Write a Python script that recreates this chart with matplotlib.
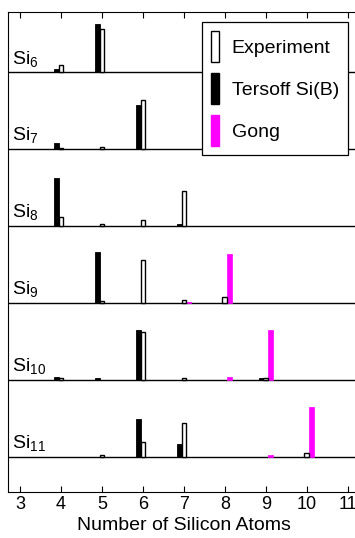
#Fragment abundances for Si6..Si11 clusters, one stacked row per cluster
import numpy as np
import matplotlib
matplotlib.use('Agg')
import matplotlib.pyplot as plt
from matplotlib.patches import Patch

plt.rcParams['font.family'] = ['Liberation Sans', 'DejaVu Sans']
plt.rcParams['mathtext.fontset'] = 'custom'
plt.rcParams['mathtext.rm'] = 'Liberation Sans'
plt.rcParams['mathtext.default'] = 'regular'

#data (heights relative to the row spacing)
clusters = [6, 7, 8, 9, 10, 11]
fragments = [4, 5, 6, 7, 8, 9, 10]

experiment = [
    [0.09, 0.56, 0.00, 0.00, 0.00, 0.00, 0.00],
    [0.01, 0.02, 0.64, 0.00, 0.00, 0.00, 0.00],
    [0.12, 0.02, 0.08, 0.45, 0.00, 0.00, 0.00],
    [0.00, 0.02, 0.55, 0.03, 0.08, 0.00, 0.00],
    [0.02, 0.00, 0.62, 0.02, 0.00, 0.02, 0.00],
    [0.00, 0.02, 0.19, 0.44, 0.00, 0.00, 0.05],
]
tersoff = [
    [0.04, 0.62, 0.00, 0.00, 0.00, 0.00, 0.00],
    [0.08, 0.00, 0.57, 0.00, 0.00, 0.00, 0.00],
    [0.62, 0.00, 0.00, 0.02, 0.00, 0.00, 0.00],
    [0.00, 0.66, 0.00, 0.00, 0.00, 0.00, 0.00],
    [0.03, 0.02, 0.65, 0.00, 0.00, 0.02, 0.00],
    [0.00, 0.00, 0.49, 0.17, 0.00, 0.00, 0.00],
]
gong = [
    [0.00, 0.00, 0.00, 0.00, 0.00, 0.00, 0.00],
    [0.00, 0.00, 0.00, 0.00, 0.00, 0.00, 0.00],
    [0.00, 0.00, 0.00, 0.00, 0.00, 0.00, 0.00],
    [0.00, 0.00, 0.00, 0.015, 0.64, 0.00, 0.00],
    [0.00, 0.00, 0.00, 0.00, 0.04, 0.64, 0.00],
    [0.00, 0.00, 0.00, 0.00, 0.00, 0.015, 0.65],
]

fig = plt.figure(figsize=(3.55, 5.38), dpi=100)
ax = fig.add_axes([0.0217, 0.0855, 0.993, 0.8922])

w = 0.12
x = np.array(fragments, dtype=float)
for i, n in enumerate(clusters):
    base = len(clusters) - 1 - i
    ax.axhline(base, color='black', lw=1.0, zorder=1)
    e = np.array(experiment[i]); t = np.array(tersoff[i]); g = np.array(gong[i])
    m = t > 0
    ax.bar(x[m] - 0.11, t[m], w, bottom=base, color='black', edgecolor='black', lw=0.6, zorder=2)
    m = e > 0
    ax.bar(x[m], e[m], w, bottom=base, color='white', edgecolor='black', lw=1.0, zorder=3)
    m = g > 0
    ax.bar(x[m] + 0.11, g[m], w, bottom=base, color='#ff00ff', edgecolor='#ff00ff', lw=0.5, zorder=2)
    ax.text(2.8, base + 0.11, r'Si$_{%d}$' % n, fontsize=14, ha='left', va='baseline')

ax.set_xlim(2.7, 11.3)
ax.set_ylim(-0.46, 5.78)
ax.set_xticks(range(3, 12))
ax.set_yticks([])
ax.tick_params(axis='x', direction='in', top=True, length=4, labelsize=13, pad=3)
ax.set_xlabel('Number of Silicon Atoms', fontsize=14, labelpad=3)

handles = [Patch(facecolor='white', edgecolor='black', lw=1.0),
           Patch(facecolor='black', edgecolor='black'),
           Patch(facecolor='#ff00ff', edgecolor='#ff00ff')]
leg = ax.legend(handles, ['Experiment', 'Tersoff Si(B)', 'Gong'],
                loc='upper left', bbox_to_anchor=(202 / 355, 1 - 22 / 538),
                bbox_transform=fig.transFigure, fontsize=14, fancybox=False,
                framealpha=1, edgecolor='black', handlelength=0.42, handleheight=2.1,
                labelspacing=0.55, handletextpad=0.65, borderpad=0.45, borderaxespad=0)
leg.get_frame().set_linewidth(0.9)
leg.set_zorder(5)

plt.savefig('out.png', dpi=100)
